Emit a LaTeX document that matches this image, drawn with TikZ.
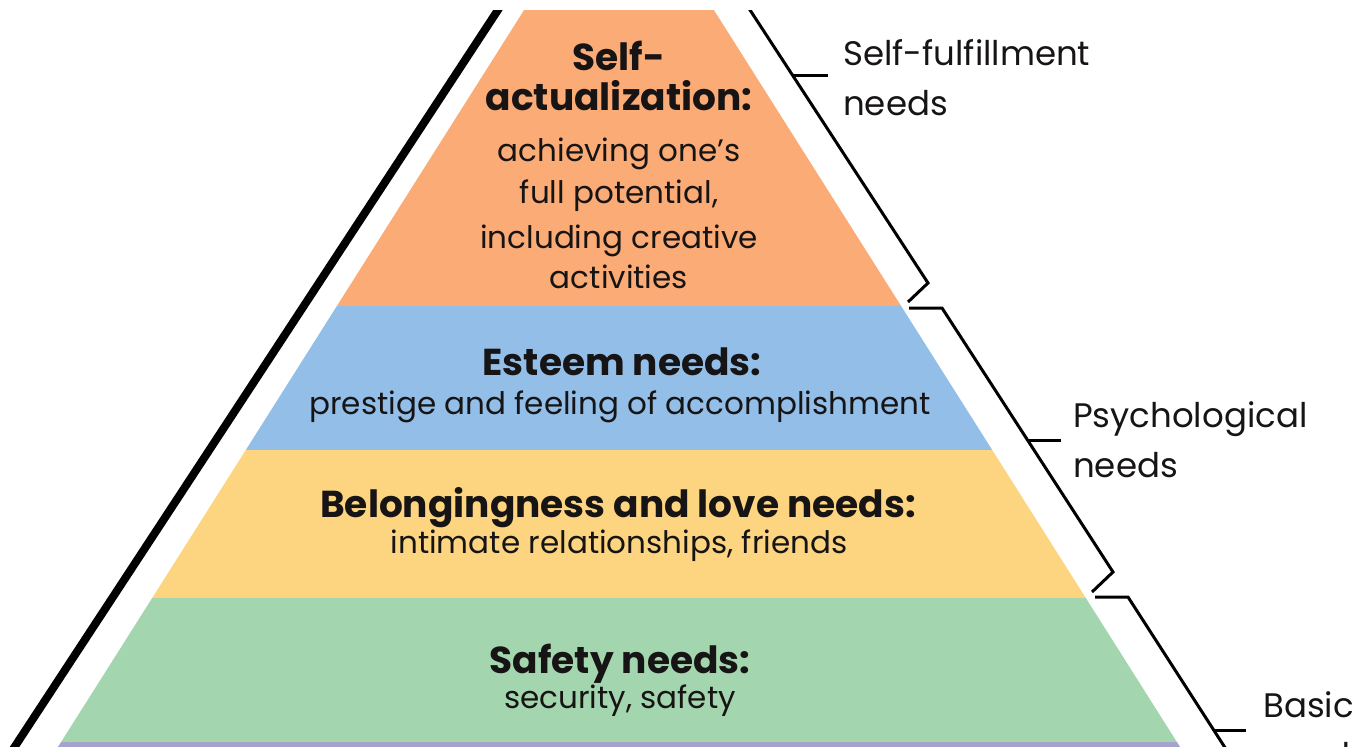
\documentclass[tikz,border=0pt]{standalone}
\usepackage{fontspec}
\setmainfont{Poppins}
\definecolor{ink}{RGB}{22,20,20}
\definecolor{saorange}{RGB}{251,171,117}
\definecolor{esblue}{RGB}{146,190,232}
\definecolor{beyellow}{RGB}{253,213,128}
\definecolor{sfgreen}{RGB}{163,214,174}
\definecolor{phpurple}{RGB}{166,163,207}
\begin{document}
\begin{tikzpicture}[x=1pt,y=-1pt,
  bandbold/.style={font=\fontsize{37.5}{40}\selectfont\bfseries, text=ink, anchor=base, inner sep=0pt},
  bandtext/.style={font=\fontsize{31}{36}\selectfont, text=ink, anchor=base, inner sep=0pt},
  sidelabel/.style={font=\fontsize{34}{40}\selectfont, text=ink, anchor=base west, inner sep=0pt},
  bracket/.style={draw=black, line width=3pt, line join=miter},
  tick/.style={draw=black, line width=3pt},
  outline/.style={draw=black, line width=8pt}]
\useasboundingbox (0,0) rectangle (1358,747);
\clip (0,10) rectangle (1358,747);

% pyramid: apex above the top edge, sides with half-width 0.6325 per unit of height
\coordinate (apex) at (619,-140);
\coordinate (baseL) at (-30,886);
\coordinate (baseR) at (1268,886);
\begin{scope}
  \clip (apex) -- (baseR) -- (baseL) -- cycle;
  \fill[saorange] (0,0) rectangle (1358,306);
  \fill[esblue]   (0,306) rectangle (1358,450);
  \fill[beyellow] (0,450) rectangle (1358,598);
  \fill[sfgreen]  (0,598) rectangle (1358,742);
  \fill[phpurple] (0,742) rectangle (1358,760);
\end{scope}

% heavy outline on the left
\coordinate (outTop) at (504.5,0);
\coordinate (outBot) at (6,760);
\draw[outline] (outTop) -- (outBot);

% brackets on the right
\coordinate (b1s) at (743.5,0);
\coordinate (b1z) at (928,283);
\coordinate (b1e) at (908,302);
\coordinate (b2s) at (909,308);
\coordinate (b2k) at (942,308);
\coordinate (b2z) at (1113,572);
\coordinate (b2e) at (1092,592);
\coordinate (b3s) at (1095,597);
\coordinate (b3k) at (1128,597);
\coordinate (b3e) at (1233,760);
\draw[bracket] (b1s) -- (b1z) -- (b1e);
\draw[bracket] (b2s) -- (b2k) -- (b2z) -- (b2e);
\draw[bracket] (b3s) -- (b3k) -- (b3e);

\coordinate (t1a) at (792,75);   \coordinate (t1b) at (828,75);
\coordinate (t2a) at (1027,440); \coordinate (t2b) at (1061,440);
\coordinate (t3a) at (1214,730); \coordinate (t3b) at (1246,730);
\draw[tick] (t1a) -- (t1b);
\draw[tick] (t2a) -- (t2b);
\draw[tick] (t3a) -- (t3b);

% group labels
\node[sidelabel] (lblself)   at (843,65)   {Self-fulfillment};
\node[sidelabel] (lblselfb)  at (843,115)  {needs};
\node[sidelabel] (lblpsych)  at (1073,427) {Psychological};
\node[sidelabel] (lblpsychb) at (1073,477) {needs};
\node[sidelabel] (lblbasic)  at (1263,717) {Basic};
\node[sidelabel] (lblbasicb) at (1263,767) {needs};

% level texts
\node[bandbold] (sa1) at (619,70)  {Self-};
\node[bandbold] (sa2) at (619,110) {actualization:};
\node[bandtext] (sa3) at (619,161) {achieving one’s};
\node[bandtext] (sa4) at (619,203) {full potential,};
\node[bandtext] (sa5) at (619,248) {including creative};
\node[bandtext] (sa6) at (619,288) {activities};

\node[bandbold] (es1) at (622,375) {Esteem needs:};
\node[bandtext] (es2) at (620,414) {prestige and feeling of accomplishment};

\node[bandbold] (be1) at (618,517) {Belongingness and love needs:};
\node[bandtext] (be2) at (619,553) {intimate relationships, friends};

\node[bandbold] (sf1) at (620,673) {Safety needs:};
\node[bandtext] (sf2) at (620,708) {security, safety};
\end{tikzpicture}
\end{document}
